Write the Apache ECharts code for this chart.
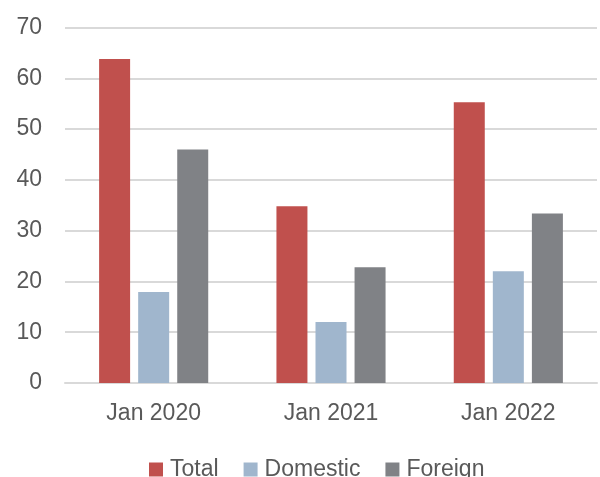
<!DOCTYPE html>
<html><head><meta charset="utf-8">
<script src="https://cdn.jsdelivr.net/npm/echarts@6/dist/echarts.min.js"></script>
<style>html,body{margin:0;padding:0;background:#fff}#c{width:600px;height:477px}</style>
</head><body><div id="c"></div>
<script>
const categories = ['Jan 2020', 'Jan 2021', 'Jan 2022'];
const totalValues = [63.8, 34.8, 55.3];
const domesticValues = [17.9, 12.0, 22.0];
const foreignValues = [46.0, 22.8, 33.4];
const yTicks = { min: 0, max: 70, interval: 10 };

const chart = echarts.init(document.getElementById('c'), null, { renderer: 'canvas' });
const font = 'Liberation Sans, Arial, sans-serif';
chart.setOption({
  animation: false,
  grid: { left: 65, right: 3, top: 27.5, bottom: 94 },
  legend: {
    top: 458, left: 149, padding: 0, itemWidth: 14, itemHeight: 14, itemGap: 25,
    icon: 'rect',
    textStyle: { fontSize: 23, color: '#595959', fontFamily: font, padding: [0, 0, 0, 2] },
    data: ['Total', 'Domestic', 'Foreign']
  },
  xAxis: {
    type: 'category', data: categories,
    axisLine: { lineStyle: { color: '#d9d9d9', width: 2 } },
    axisTick: { show: false },
    axisLabel: { fontSize: 23, color: '#595959', fontFamily: font, margin: 19 }
  },
  yAxis: {
    type: 'value', min: yTicks.min, max: yTicks.max, interval: yTicks.interval,
    axisLine: { show: false }, axisTick: { show: false },
    splitLine: { lineStyle: { color: '#d9d9d9', width: 2 } },
    axisLabel: { fontSize: 23, color: '#595959', fontFamily: font, margin: 23 }
  },
  series: [
    { name: 'Total', type: 'bar', data: totalValues, itemStyle: { color: '#C0504D' }, barWidth: 31, barGap: '26%' },
    { name: 'Domestic', type: 'bar', data: domesticValues, itemStyle: { color: '#A0B6CD' }, barWidth: 31, barGap: '26%' },
    { name: 'Foreign', type: 'bar', data: foreignValues, itemStyle: { color: '#808286' }, barWidth: 31, barGap: '26%' }
  ]
});
</script></body></html>
